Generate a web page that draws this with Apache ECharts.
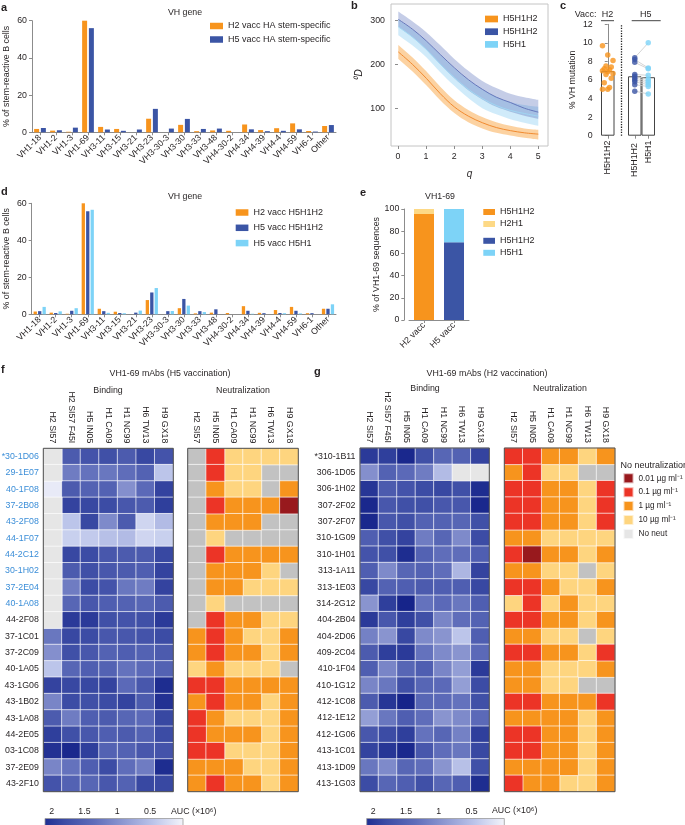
<!DOCTYPE html>
<html><head><meta charset="utf-8">
<script src="https://cdn.jsdelivr.net/npm/echarts@6/dist/echarts.min.js"></script>
<style>html,body{margin:0;padding:0;background:#fff}#c{width:685px;height:825px}</style>
</head><body><div id="c"></div>
<script>
const FONT = 'Liberation Sans, Arial, sans-serif';
const TXT = '#231f20';
const FS = 8.8;
const ORANGE = '#f7941d', DARK = '#3b55a5', LIGHT = '#7dd3f7', YELLOW = '#fdd986';

// ---------- panels a & d ----------
const vhGenes = ['VH1-18','VH1-2','VH1-3','VH1-69','VH3-11','VH3-15','VH3-21','VH3-23','VH3-30-3','VH3-30','VH3-33','VH3-48','VH4-30-2','VH4-34','VH4-39','VH4-4','VH4-59','VH6-1','Other'];
const aH2Stem = [1.8,0.9,0.3,60,2.9,1.8,0,7.3,0,4.0,0.6,1.0,0.8,4.2,1.2,2.2,4.8,0.7,3.4];
const aH5Stem = [2.3,1.1,2.5,56,1.5,0.8,1.5,12.6,2.0,7.2,1.8,2.0,0,1.6,0.6,0.8,1.6,0.4,3.9];
const dH2H5H1H2 = [1.5,0.9,0.3,60.5,3.0,1.4,0,7.7,0,3.3,0.5,0.9,0.7,4.4,0.8,2.3,4.0,0.6,3.0];
const dH5H5H1H2 = [1.7,0.7,1.9,55.7,1.7,0.7,0.9,11.8,1.7,8.3,1.7,2.7,0,1.9,0.6,0.7,1.9,0.6,3.0];
const dH5H5H1 = [4.0,1.6,3.3,56.5,0.8,0.6,2.0,14.2,1.8,4.7,1.2,0,0,0.3,0,0.6,0.5,0,5.4];

// ---------- panel b ----------
const qValues = [0,0.5,1,1.5,2,2.5,3,3.5,4,4.5,5];
const qTicks = [0,1,2,3,4,5];
const dTicks = [100,200,300];
const bOrangeMid = [228,200,168,133,103,82,67,56,49,44,41];
const bOrangeHi  = [244,216,184,149,118,96,80,68,60,54,51];
const bOrangeLo  = [212,184,152,118,89,68,54,44,38,33,29];
const bDarkMid   = [302,280,253,222,192,165,143,125,113,100,91];
const bDarkHi    = [320,298,273,243,212,185,162,146,133,125,119];
const bDarkLo    = [285,262,233,200,168,141,120,103,92,83,76];
const bLightMid  = [285,262,234,200,170,143,122,106,95,88,82];
const bLightHi   = [302,279,252,221,191,164,143,126,114,107,103];
const bLightLo   = [266,243,216,182,151,123,100,86,75,67,60];

// ---------- panel c ----------
const cCats = ['H5H1H2', '', 'H5H1H2 ', 'H5H1'];
const cMeans = [6.95, '-', 6.4, 6.3];
const cTicks = [0,2,4,6,8,10,12];
const cH2Points = [9.7,8.7,8.1,7.5,7.4,7.2,7.1,7.0,6.9,6.7,6.6,6.2,5.7,5.2,5.0,5.0];
const cH5PairH5H1H2 = [8.4,8.2,7.9,6.6,6.4,6.2,6.0,5.8,5.5,4.8];
const cH5PairH5H1   = [10.0,7.3,7.2,6.5,6.1,5.9,5.7,5.5,5.3,4.5];

// ---------- panel e ----------
const eCats = ['H2 vacc', 'H5 vacc'];
const eH5H1H2_H2vacc = [95.5, '-'];
const eH2H1_H2vacc = [4.5, '-'];
const eH5H1H2_H5vacc = ['-', 70];
const eH5H1_H5vacc = ['-', 30];

// ---------- panels f & g ----------
const bindCols = ['H2 SI57','H2 SI57 F45I','H5 IN05','H1 CA09','H1 NC99','H6 TW13','H9 GX18'];
const neutCols = ['H2 SI57','H5 IN05','H1 CA09','H1 NC99','H6 TW13','H9 GX18'];
const neutLevels = ['No neut','10 µg ml⁻¹','1 µg ml⁻¹','0.1 µg ml⁻¹','0.01 µg ml⁻¹'];
const aucTicks = [2,1.5,1,0.5];
const fRows = ['*30-1D06','29-1E07','40-1F08','37-2B08','43-2F08','44-1F07','44-2C12','30-1H02','37-2E04','40-1A08','44-2F08','37-1C01','37-2C09','40-1A05','43-1G06','43-1B02','43-1A08','44-2E05','03-1C08','37-2E09','43-2F10'];
const fBinding = [
[0,1.6,1.7,1.75,1.6,1.85,1.7],
[0,1.2,1.3,1.25,1.35,1.5,0.45],
[0.1,1.6,1.5,1.5,1.0,1.4,1.9],
[0,1.9,1.85,1.8,1.65,1.6,1.95],
[0,0.45,1.85,1.05,1.6,0.3,0.55],
[0,0.35,0.4,0.5,0.55,0.3,0.35],
[0,1.85,1.8,1.65,1.6,1.6,1.85],
[0,1.6,1.75,1.65,1.6,1.55,1.9],
[0,1.2,1.8,1.7,1.25,1.2,1.9],
[0,1.45,1.65,1.55,1.5,1.45,1.6],
[0,2.0,2.0,1.75,1.7,1.75,2.0],
[1.25,1.85,1.8,1.65,1.65,1.7,1.8],
[1.0,1.75,1.65,1.5,1.55,1.5,1.6],
[0.45,1.45,1.55,1.5,1.3,1.4,1.5],
[1.9,1.85,1.85,1.9,1.4,1.65,2.15],
[1.1,1.8,1.75,1.8,1.9,1.6,2.1],
[1.6,1.2,1.55,1.6,1.45,1.4,1.85],
[1.95,1.75,1.65,1.55,1.6,1.5,1.8],
[2.1,2.2,1.95,1.5,1.5,1.65,1.7],
[1.1,1.3,1.55,1.8,1.35,1.2,2.15],
[1.7,1.5,1.45,1.65,1.5,1.85,1.85]];
const fNeut = [
[0,3,1,1,1,1],[0,3,1,1,0,0],[0,2,1,1,0,2],[0,3,2,2,2,4],[0,2,2,2,0,0],
[0,1,0,0,0,0],[0,3,2,2,2,2],[0,2,2,2,1,0],[0,2,2,1,1,1],[0,1,0,0,0,0],
[0,3,2,2,1,1],[2,3,2,1,1,2],[2,3,2,2,1,2],[1,2,1,1,1,0],[3,3,2,2,2,2],
[2,3,2,2,1,2],[3,2,1,1,1,2],[3,2,2,2,1,2],[3,3,1,1,1,2],[2,2,2,1,1,2],[2,3,2,2,1,2]];
const gRows = ['*310-1B11','306-1D05','306-1H02','307-2F02','307-2F07','310-1G09','310-1H01','313-1A11','313-1E03','314-2G12','404-2B04','404-2D06','409-2C04','410-1F04','410-1G12','412-1C08','412-1E12','412-1G06','413-1C01','413-1D09','413-1G03'];
const gBinding = [
[2.0,1.95,2.2,1.75,1.45,1.5,1.9],
[1.0,1.5,1.4,1.2,0.55,0,0],
[2.05,1.6,1.7,1.8,1.85,1.75,2.15],
[2.2,1.65,1.75,1.75,1.65,1.65,2.2],
[2.2,1.65,1.75,1.5,1.5,1.45,1.75],
[1.55,1.75,1.9,1.2,1.45,1.05,1.8],
[1.7,1.75,2.15,1.5,1.35,1.35,1.55],
[1.55,1.05,1.45,1.5,1.35,0.6,1.9],
[1.85,1.5,1.55,1.6,1.55,1.55,1.85],
[0.95,1.95,2.25,1.3,1.4,1.25,1.55],
[2.0,1.65,1.95,1.75,1.1,1.35,1.5],
[1.15,0.95,1.85,1.05,0.95,0.45,1.55],
[1.6,1.95,2.0,1.3,1.05,0.95,1.4],
[1.55,1.1,1.45,1.55,1.1,0.85,2.0],
[1.1,1.25,1.75,1.45,1.4,0.85,1.8],
[1.6,2.05,2.25,1.45,1.4,1.3,1.75],
[0.85,1.25,1.55,1.35,0.95,1.05,1.4],
[1.65,1.8,1.95,1.3,1.45,1.15,1.95],
[1.9,2.05,2.2,1.65,1.35,1.25,1.85],
[1.25,1.05,1.45,1.35,0.95,0.5,1.75],
[1.8,1.45,1.55,1.75,1.45,1.55,2.15]];
const gNeut = [
[3,3,2,2,1,2],[2,3,1,1,0,0],[3,3,2,2,1,3],[3,3,2,2,1,3],[3,3,2,2,1,3],
[2,2,1,1,1,1],[3,4,2,2,1,2],[2,2,1,1,0,1],[3,3,2,1,1,2],[1,3,1,2,1,1],
[3,3,2,2,1,2],[2,2,1,1,0,1],[3,3,2,2,1,3],[2,2,1,1,1,2],[2,2,1,1,0,0],
[3,3,2,2,2,3],[2,2,2,2,1,2],[3,3,2,2,1,2],[3,3,2,2,1,2],[2,2,2,2,1,2],[3,2,2,1,1,2]];

// ---------- styles ----------
const neutColors = ['#c2c2c2','#fed57f','#f7941d','#ec3426','#98191d'];
const bindColors = ['#f4f5fb','#bcc5ea','#8e99d2','#5f6dba','#3c4ca5','#16248a'];
const BIND_MAX = 2.25;
const AXC = '#8c8c8c';
const lineSt = {color: AXC, width: 1};
const lbl = (o) => Object.assign({fontSize: FS, color: TXT, fontFamily: FONT}, o || {});

const grids = [], xAxes = [], yAxes = [], series = [], graphics = [], legends = [];
function addGrid(g) { grids.push(Object.assign({outerBoundsMode: 'none', containLabel: false}, g)); return grids.length - 1; }
function addX(o) { xAxes.push(o); return xAxes.length - 1; }
function addY(o) { yAxes.push(o); return yAxes.length - 1; }
function valY(gi, o) {
  return Object.assign({type: 'value', gridIndex: gi, axisLine: {show: true, lineStyle: lineSt},
    axisTick: {show: true, length: 3, lineStyle: lineSt}, splitLine: {show: false},
    axisLabel: lbl({margin: 5}), nameLocation: 'middle', nameTextStyle: lbl()}, o);
}
function catX(gi, data, o) {
  return Object.assign({type: 'category', gridIndex: gi, data, axisLine: {show: true, lineStyle: lineSt},
    axisTick: {show: true, alignWithLabel: true, length: 3, lineStyle: lineSt},
    axisLabel: lbl({rotate: 45, interval: 0, margin: 4, hideOverlap: false})}, o);
}
function legend(left, top, itemWidth, itemHeight, itemGap, items, fs) {
  legends.push({left, top, orient: 'vertical', padding: 0, itemWidth, itemHeight, itemGap, icon: 'rect', selectedMode: false,
    textStyle: lbl({fontSize: fs || 9}), data: items.map(([n, c]) => ({name: n, itemStyle: {color: c}}))});
}

// ---------- panel a ----------
{
  const g = addGrid({left: 32, top: 20.7, width: 304, height: 111.6});
  const x = addX(catX(g, vhGenes));
  const y = addY(valY(g, {min: 0, max: 60, interval: 20, name: '% of stem-reactive B cells', nameGap: 21}));
  series.push({type: 'bar', name: 'H2 vacc HA stem-specific', xAxisIndex: x, yAxisIndex: y, data: aH2Stem, barWidth: 5, barGap: '35%', itemStyle: {color: ORANGE}});
  series.push({type: 'bar', name: 'H5 vacc HA stem-specific', xAxisIndex: x, yAxisIndex: y, data: aH5Stem, barWidth: 5, barGap: '35%', itemStyle: {color: DARK}});
  legend(210, 21.5, 13, 6.5, 4.5, [['H2 vacc HA stem-specific', ORANGE], ['H5 vacc HA stem-specific', DARK]]);
}
// ---------- panel d ----------
{
  const g = addGrid({left: 31.7, top: 203.3, width: 304.3, height: 111});
  const x = addX(catX(g, vhGenes));
  const y = addY(valY(g, {min: 0, max: 60, interval: 20, name: '% of stem-reactive B cells', nameGap: 21}));
  const defs = [['H2 vacc H5H1H2', dH2H5H1H2, ORANGE], ['H5 vacc H5H1H2', dH5H5H1H2, DARK], ['H5 vacc H5H1', dH5H5H1, LIGHT]];
  defs.forEach(([n, d, c]) => series.push({type: 'bar', name: n, xAxisIndex: x, yAxisIndex: y, data: d, barWidth: 3.3, barGap: '35%', itemStyle: {color: c}}));
  legend(235.7, 208, 12.7, 6.5, 6.3, defs.map(([n, d, c]) => [n, c]));
}
// ---------- panel b ----------
{
  // frame with the q / ⁰D scales
  const gf = addGrid({left: 391, top: 4, width: 157, height: 142, show: true, borderColor: '#c4c4c4', borderWidth: 1, backgroundColor: 'transparent'});
  addX({type: 'value', gridIndex: gf, min: -0.25, max: 5.35, axisLine: {show: false},
    axisTick: {show: true, customValues: qTicks, length: 3, lineStyle: lineSt}, axisLabel: lbl({customValues: qTicks, margin: 6}),
    splitLine: {show: false}, name: 'q', nameLocation: 'middle', nameGap: 23, nameTextStyle: lbl({fontStyle: 'italic', fontSize: 10})});
  addY({type: 'value', gridIndex: gf, min: 14, max: 337, axisLine: {show: false},
    axisTick: {show: true, customValues: dTicks, length: 3, lineStyle: lineSt}, axisLabel: lbl({customValues: dTicks, margin: 6}),
    splitLine: {show: false}, name: '⁰D', nameLocation: 'middle', nameGap: 27, nameTextStyle: lbl({fontStyle: 'italic', fontSize: 10})});
  // plotting area spanning q = 0..5 inside the frame
  const g = addGrid({left: 398.3, top: 4, width: 140, height: 142});
  const x = addX({type: 'category', gridIndex: g, data: qValues.map(String), boundaryGap: false, show: false});
  const y = addY({type: 'value', gridIndex: g, min: 14, max: 337, show: false});
  const band = (name, lo, hi, color, stack) => {
    series.push({type: 'line', xAxisIndex: x, yAxisIndex: y, stack, data: lo, symbol: 'none', smooth: 0.35, lineStyle: {opacity: 0}, silent: true, z: 1});
    series.push({type: 'line', name, xAxisIndex: x, yAxisIndex: y, stack, data: hi.map((v, i) => v - lo[i]), symbol: 'none', smooth: 0.35, lineStyle: {opacity: 0}, areaStyle: {color, opacity: 1}, silent: true, z: 1});
  };
  band('H5H1', bLightLo, bLightHi, 'rgba(125,200,240,0.36)', 'l');
  band('H5H1H2 ', bDarkLo, bDarkHi, 'rgba(75,100,180,0.32)', 'd');
  band('H5H1H2', bOrangeLo, bOrangeHi, 'rgba(247,148,30,0.42)', 'o');
  const mid = (d, c) => series.push({type: 'line', xAxisIndex: x, yAxisIndex: y, data: d, symbol: 'none', smooth: 0.35, lineStyle: {color: c, width: 1}, silent: true, z: 3});
  mid(bLightMid, '#9fd6f2'); mid(bDarkMid, '#6577bb'); mid(bOrangeMid, '#f08a30');
  legend(485, 14.5, 13, 6.7, 3.7, [['H5H1H2', ORANGE], ['H5H1H2 ', DARK], ['H5H1', LIGHT]]);
}
// ---------- panel c ----------
{
  const g = addGrid({left: 601, top: 24.3, width: 54, height: 111.4});
  const x = addX({type: 'category', gridIndex: g, data: cCats, axisLine: {show: false},
    axisTick: {show: true, alignWithLabel: true, length: 3, interval: (i) => i !== 1, lineStyle: lineSt},
    axisLabel: lbl({rotate: 90, interval: 0, margin: 5, hideOverlap: false})});
  const xv = addX({type: 'value', gridIndex: g, min: -0.5, max: 3.5, show: false});
  const y = addY(valY(g, {min: 0, max: 12, interval: 2, offset: 3.3, name: '% VH mutation', nameGap: 21}));
  series.push({type: 'bar', xAxisIndex: x, yAxisIndex: y, data: cMeans, barWidth: 13.5, itemStyle: {color: '#fff', borderColor: '#444', borderWidth: 1}, z: 1,
    markLine: {symbol: 'none', silent: true, label: {show: false}, lineStyle: {type: 'dotted', color: '#222', width: 1.3}, data: [{xAxis: 1}]}});
  const jit = (i) => ((i * 3) % 7 - 3) * 0.13;
  series.push({type: 'scatter', xAxisIndex: xv, yAxisIndex: y, data: cH2Points.map((v, i) => [jit(i), v]), symbolSize: 5.5, itemStyle: {color: ORANGE}, z: 4});
  cH5PairH5H1H2.forEach((d, i) => series.push({type: 'line', xAxisIndex: xv, yAxisIndex: y, data: [[2, d], [3, cH5PairH5H1[i]]], symbol: 'none', lineStyle: {color: '#c9c9c9', width: 0.8}, silent: true, z: 3}));
  series.push({type: 'scatter', xAxisIndex: xv, yAxisIndex: y, data: cH5PairH5H1H2.map(v => [2, v]), symbolSize: 5.5, itemStyle: {color: DARK}, z: 4});
  series.push({type: 'scatter', xAxisIndex: xv, yAxisIndex: y, data: cH5PairH5H1.map(v => [3, v]), symbolSize: 5.5, itemStyle: {color: LIGHT}, z: 4});
}
// ---------- panel e ----------
{
  const g = addGrid({left: 409, top: 209, width: 60, height: 111});
  const x = addX(catX(g, eCats));
  const y = addY(valY(g, {min: 0, max: 100, interval: 20, offset: 4.7, name: '% of VH1-69 sequences', nameGap: 22}));
  const defs = [['H5H1H2', eH5H1H2_H2vacc, ORANGE], ['H2H1', eH2H1_H2vacc, YELLOW], ['H5H1H2 ', eH5H1H2_H5vacc, DARK], ['H5H1', eH5H1_H5vacc, LIGHT]];
  defs.forEach(([n, d, c]) => series.push({type: 'bar', name: n, stack: 'e', xAxisIndex: x, yAxisIndex: y, data: d, barWidth: 20, itemStyle: {color: c}}));
  legend(483.3, 207.5, 11.7, 6, 3, defs.slice(0, 2).map(([n, d, c]) => [n, c]));
  legend(483.3, 236.3, 11.7, 6, 3, defs.slice(2).map(([n, d, c]) => [n, c]));
}
// ---------- heatmaps ----------
const bindSeriesIdx = [];
function heat(left, top, width, height, cols, rows, rowColor, showRows) {
  const g = addGrid({left, top, width, height, show: true, borderColor: '#4a4a4a', borderWidth: 1, backgroundColor: 'transparent', z: 10});
  const x = addX({type: 'category', gridIndex: g, data: cols, position: 'top', axisLine: {show: false}, axisTick: {show: false},
    axisLabel: lbl({rotate: 90, interval: 0, margin: 5, hideOverlap: false})});
  const y = addY({type: 'category', gridIndex: g, data: rows, inverse: true, axisLine: {show: false}, axisTick: {show: false},
    axisLabel: lbl({show: showRows, interval: 0, margin: 4.5, hideOverlap: false, color: rowColor})});
  return [x, y];
}
const cellStyle = {borderColor: 'rgba(255,255,255,0.65)', borderWidth: 1};
function bindingHeat(ax, matrix) {
  const data = [], none = [];
  matrix.forEach((row, r) => row.forEach((v, c) => (v > 0 ? data : none).push([c, r, v])));
  series.push({type: 'heatmap', xAxisIndex: ax[0], yAxisIndex: ax[1], data, itemStyle: cellStyle, silent: true});
  bindSeriesIdx.push(series.length - 1);
  series.push({type: 'heatmap', xAxisIndex: ax[0], yAxisIndex: ax[1], data: none, itemStyle: Object.assign({color: '#e6e6e6'}, cellStyle), silent: true});
}
function neutHeat(ax, matrix) {
  neutLevels.forEach((name, lvl) => {
    const data = [];
    matrix.forEach((row, r) => row.forEach((v, c) => { if (v === lvl) data.push([c, r, v]); }));
    series.push({type: 'heatmap', name, xAxisIndex: ax[0], yAxisIndex: ax[1], data, itemStyle: Object.assign({color: neutColors[lvl]}, cellStyle), silent: true});
  });
}
bindingHeat(heat(43.3, 448.3, 130, 343.4, bindCols, fRows, (v, i) => i < 10 ? '#3b8ed8' : TXT, true), fBinding);
neutHeat(heat(187.7, 448.3, 110.6, 343.4, neutCols, fRows, TXT, false), fNeut);
bindingHeat(heat(360, 448, 129.3, 343.7, bindCols, gRows, TXT, true), gBinding);
neutHeat(heat(504.3, 448, 110.7, 343.7, neutCols, gRows, TXT, false), gNeut);

legend(622.5, 472.3, 10, 10, 1.9, [4, 3, 2, 1, 0].map(l => [neutLevels[l], l === 0 ? '#e6e6e6' : neutColors[l]]), 8.2);

// colour bars
function colorBar(left, width) {
  const CB_MAX = 2.1;
  const stops = [];
  bindColors.forEach((c, k) => {
    const v = k / (bindColors.length - 1) * BIND_MAX;
    if (v <= CB_MAX) stops.push({offset: 1 - v / CB_MAX, color: c});
  });
  stops.push({offset: 0, color: '#1f2e92'});
  stops.sort((a, b) => a.offset - b.offset);
  const g = addGrid({left, top: 818.5, width, height: 10, show: true, borderColor: '#9a9a9a', borderWidth: 0.8,
    backgroundColor: new echarts.graphic.LinearGradient(0, 0, 1, 0, stops)});
  addX({type: 'value', gridIndex: g, inverse: true, min: 0, max: CB_MAX, position: 'top', axisLine: {show: false},
    axisTick: {show: true, inside: true, customValues: aucTicks, length: 3, lineStyle: {color: '#9a9a9a'}},
    axisLabel: lbl({customValues: aucTicks, margin: 2.5}), splitLine: {show: false}});
  addY({type: 'value', gridIndex: g, show: false});
}
colorBar(45, 138);
colorBar(366.7, 137.6);

// ---------- text annotations ----------
function T(text, x, y, o) {
  graphics.push({type: 'text', x, y, silent: true, style: Object.assign({text, fill: TXT, fontSize: FS, fontFamily: FONT, align: 'left', verticalAlign: 'middle'}, o || {})});
}
const B = {fontWeight: 'bold', fontSize: 11};
T('a', 1, 8, B); T('b', 351, 6, B); T('c', 560, 6, B); T('d', 1, 192, B); T('e', 360, 193, B); T('f', 1, 370, B); T('g', 314, 372, B);
T('VH gene', 185, 12.5, {align: 'center'});
T('VH gene', 185, 197, {align: 'center'});
T('VH1-69', 440, 197, {align: 'center'});
T('Vacc:', 596.5, 15, {align: 'right', fontSize: 9});
T('H2', 607.5, 15, {align: 'center', fontSize: 9});
T('H5', 645.7, 15, {align: 'center', fontSize: 9});
graphics.push({type: 'line', silent: true, shape: {x1: 601, y1: 20.7, x2: 614, y2: 20.7}, style: {stroke: '#444', lineWidth: 1}});
graphics.push({type: 'line', silent: true, shape: {x1: 631.7, y1: 20.7, x2: 660.7, y2: 20.7}, style: {stroke: '#444', lineWidth: 1}});
T('VH1-69 mAbs (H5 vaccination)', 170, 374, {align: 'center'});
T('Binding', 108, 390.5, {align: 'center'});
T('Neutralization', 243, 390.5, {align: 'center'});
T('VH1-69 mAbs (H2 vaccination)', 487, 374, {align: 'center'});
T('Binding', 425, 389, {align: 'center'});
T('Neutralization', 560, 389, {align: 'center'});
T('No neutralization', 620.5, 466, {fontSize: 9});
T('AUC (×10⁶)', 171, 811.5);
T('AUC (×10⁶)', 492, 811);

const chart = echarts.init(document.getElementById('c'), null, {renderer: 'canvas', width: 685, height: 825});
chart.setOption({
  animation: false,
  backgroundColor: '#fff',
  textStyle: {fontFamily: FONT},
  grid: grids, xAxis: xAxes, yAxis: yAxes, legend: legends, series,
  visualMap: [{type: 'continuous', show: false, min: 0, max: BIND_MAX, dimension: 2, seriesIndex: bindSeriesIdx, inRange: {color: bindColors}}],
  graphic: graphics
});
</script></body></html>
